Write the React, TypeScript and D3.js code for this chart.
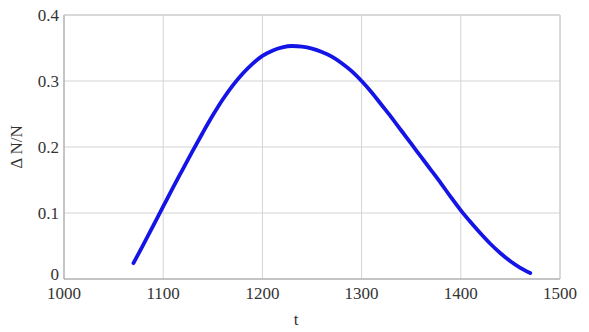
import React from "react";
import * as d3 from "d3";

const tValues = [1070,1080,1090,1100,1110,1120,1130,1140,1150,1160,1170,1180,1190,1200,1210,1220,1230,1240,1250,1260,1270,1280,1290,1300,1310,1320,1330,1340,1350,1360,1370,1380,1390,1400,1410,1420,1430,1440,1450,1460,1470];
const dnValues = [0.024,0.052,0.081,0.110,0.139,0.167,0.195,0.222,0.248,0.272,0.293,0.311,0.326,0.338,0.346,0.351,0.353,0.352,0.349,0.344,0.337,0.327,0.315,0.300,0.283,0.264,0.245,0.225,0.205,0.185,0.165,0.145,0.124,0.104,0.086,0.069,0.053,0.039,0.027,0.017,0.009];
const xTicks = [1000,1100,1200,1300,1400,1500];
const yTicks = [0,0.1,0.2,0.3,0.4];
const xLabel = "t";
const yLabel = "Δ N/N";

const W = 589, H = 332;
const L = 64, R = 560, T = 15, B = 279;

export default function App() {
  const x = d3.scaleLinear().domain([1000, 1500]).range([L, R]);
  const y = d3.scaleLinear().domain([0, 0.4]).range([B, T]);
  const data = tValues.map((t, i) => [t, dnValues[i]] as [number, number]);
  const line = d3.line<[number, number]>().x(d => x(d[0])).y(d => y(d[1])).curve(d3.curveMonotoneX);
  const font = "Times New Roman, Liberation Serif, DejaVu Serif, serif";
  return (
    <svg width={W} height={H} style={{ position: "absolute", left: 0, top: 0, background: "#fff" }}>
      <rect x={0} y={0} width={W} height={H} fill="#fff" />
      {xTicks.map(t => (
        <line key={"gx" + t} x1={x(t)} x2={x(t)} y1={T} y2={B} stroke="#d4d4d4" strokeWidth={1} />
      ))}
      {yTicks.map(v => (
        <line key={"gy" + v} x1={L} x2={R} y1={y(v)} y2={y(v)} stroke="#d4d4d4" strokeWidth={1} />
      ))}
      <line x1={L} x2={L} y1={T} y2={B} stroke="#a0a0a0" strokeWidth={1} />
      <line x1={L} x2={R} y1={B} y2={B} stroke="#a0a0a0" strokeWidth={1} />
      <line x1={L} x2={R} y1={T} y2={T} stroke="#c8c8c8" strokeWidth={1} />
      <line x1={R} x2={R} y1={T} y2={B} stroke="#c8c8c8" strokeWidth={1} />
      <path d={line(data) || ""} fill="none" stroke="#1414e6" strokeWidth={3.8} strokeLinecap="round" strokeLinejoin="round" />
      {xTicks.map(t => (
        <text key={"tx" + t} x={x(t)} y={299} textAnchor="middle" fontFamily={font} fontSize={17} fill="#333">{t}</text>
      ))}
      {yTicks.map(v => (
        <text key={"ty" + v} x={59} y={y(v) + 6 - (v === 0 ? 5 : 0)} textAnchor="end" fontFamily={font} fontSize={17} fill="#333">{v === 0 ? "0" : v.toFixed(1)}</text>
      ))}
      <text x={296} y={325} textAnchor="middle" fontFamily={font} fontSize={17} fill="#333">{xLabel}</text>
      <text transform={`translate(22,147) rotate(-90)`} textAnchor="middle" fontFamily={font} fontSize={17} fill="#333">{yLabel}</text>
    </svg>
  );
}
